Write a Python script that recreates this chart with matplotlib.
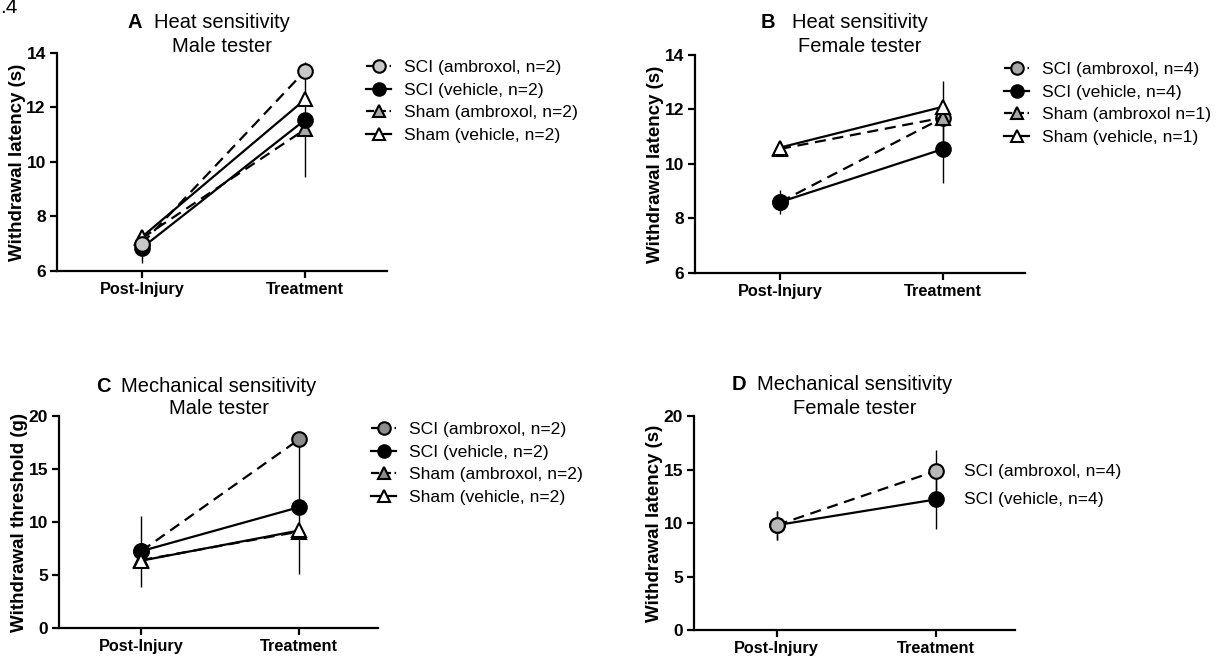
import matplotlib
matplotlib.use("Agg")
import matplotlib.pyplot as plt
from matplotlib.lines import Line2D

plt.rcParams['font.family'] = ['Liberation Sans', 'DejaVu Sans']

timepoints = ["Post-Injury", "Treatment"]

# panel A: heat, male tester
a_labels = ["SCI (ambroxol, n=2)", "SCI (vehicle, n=2)",
            "Sham (ambroxol, n=2)", "Sham (vehicle, n=2)"]
a_means = [[7.0, 13.35], [6.85, 11.55], [7.2, 11.2], [7.25, 12.3]]
a_errs = [[0.0, 0.0], [0.55, 2.1], [0.3, 0.0], [0.0, 0.0]]

# panel B: heat, female tester
b_labels = ["SCI (ambroxol, n=4)", "SCI (vehicle, n=4)",
            "Sham (ambroxol n=1)", "Sham (vehicle, n=1)"]
b_means = [[8.6, 11.7], [8.6, 10.55], [10.55, 11.7], [10.6, 12.1]]
b_errs = [[0.3, 1.35], [0.45, 1.25], [0.0, 0.0], [0.0, 0.0]]

# panel C: mechanical, male tester
c_labels = ["SCI (ambroxol, n=2)", "SCI (vehicle, n=2)",
            "Sham (ambroxol, n=2)", "Sham (vehicle, n=2)"]
c_means = [[7.25, 17.8], [7.25, 11.4], [6.4, 9.1], [6.35, 9.2]]
c_errs = [[0.0, 0.0], [3.35, 6.3], [0.0, 0.0], [0.0, 0.0]]

# panel D: mechanical, female tester
d_labels = ["SCI (ambroxol, n=4)", "SCI (vehicle, n=4)"]
d_means = [[9.8, 14.85], [9.8, 12.2]]
d_errs = [[1.35, 2.0], [1.35, 2.8]]

markers = ["o", "o", "^", "^"]
styles = ["--", "-", "--", "-"]

W, H = 1220, 657


def style_axis(ax, ylim, yticks, ylabel):
    ax.set_xlim(-0.52, 1.5)
    ax.set_ylim(*ylim)
    ax.set_yticks(yticks)
    ax.set_xticks([0, 1])
    ax.set_xticklabels(timepoints, fontsize=11.7, fontweight="bold")
    for t in ax.get_yticklabels():
        t.set_fontweight("bold")
        t.set_fontsize(12.5)
    ax.set_ylabel(ylabel, fontsize=13.5, fontweight="bold", labelpad=0)
    for s in ["top", "right"]:
        ax.spines[s].set_visible(False)
    for s in ["left", "bottom"]:
        ax.spines[s].set_linewidth(1.6)
        ax.spines[s].set_clip_on(False)
    ax.tick_params(width=1.6, length=5, direction="out", pad=3)


def draw(ax, means, errs, fills, order):
    x = [0, 1]
    for i in order:
        ax.errorbar(x, means[i], yerr=errs[i], fmt="none", ecolor="black",
                    elinewidth=1.0, capsize=0, zorder=2)
        ax.plot(x, means[i], linestyle=styles[i], color="black", lw=1.6,
                marker=markers[i], markersize=10.5 if markers[i] == "o" else 10,
                markerfacecolor=fills[i], markeredgecolor="black",
                markeredgewidth=1.5, dashes=(5, 3) if styles[i] == "--" else (None, None),
                zorder=3, clip_on=False)


def add_legend(ax, labels, fills, x_px, y_px):
    handles = []
    for i in range(len(labels)):
        handles.append(Line2D([], [], linestyle=styles[i], color="black", lw=1.6,
                              marker=markers[i], markersize=9 if markers[i] == "o" else 8,
                              markerfacecolor=fills[i], markeredgecolor="black",
                              markeredgewidth=1.5))
    ax.legend(handles, labels, loc="upper left",
              bbox_to_anchor=(x_px / W, 1 - y_px / H),
              bbox_transform=fig.transFigure, frameon=False, fontsize=12.6,
              handlelength=1.45, handletextpad=0.7, labelspacing=0.42,
              borderpad=0, borderaxespad=0)


def add_title(ax, letter, line1, line2, letter_px, y1_px, y2_px):
    pos = ax.get_position()
    cx = (pos.x0 + pos.x1) / 2
    fig.text(cx, 1 - y1_px / H, line1, fontsize=14.5, ha="center", va="center")
    fig.text(cx, 1 - y2_px / H, line2, fontsize=14.5, ha="center", va="center")
    fig.text(letter_px / W, 1 - y1_px / H, letter, fontsize=14.5,
             fontweight="bold", ha="left", va="center")


fig = plt.figure(figsize=(12.2, 6.57), dpi=100)

axA = fig.add_axes([0.0467, 0.5875, 0.2705, 0.332])
axB = fig.add_axes([0.5697, 0.5845, 0.2705, 0.332])
axC = fig.add_axes([0.0484, 0.0441, 0.2615, 0.3227])
axD = fig.add_axes([0.5689, 0.0411, 0.2631, 0.3257])

fillsA = ["#c8c8c8", "black", "#a8a8a8", "white"]
draw(axA, a_means, a_errs, fillsA, [2, 3, 1, 0])
style_axis(axA, (6, 14), [6, 8, 10, 12, 14], "Withdrawal latency (s)")
add_legend(axA, a_labels, fillsA, 366, 60)

fillsB = ["#a8a8a8", "black", "#a8a8a8", "white"]
draw(axB, b_means, b_errs, fillsB, [0, 1, 2, 3])
style_axis(axB, (6, 14), [6, 8, 10, 12, 14], "Withdrawal latency (s)")
add_legend(axB, b_labels, fillsB, 1004, 62)

fillsC = ["#8c8c8c", "black", "#8c8c8c", "white"]
draw(axC, c_means, c_errs, fillsC, [0, 1, 2, 3])
style_axis(axC, (0, 20), [0, 5, 10, 15, 20], "Withdrawal threshold (g)")
add_legend(axC, c_labels, fillsC, 371, 422)

fillsD = ["#b8b8b8", "black"]
draw(axD, d_means, d_errs, fillsD, [1, 0])
style_axis(axD, (0, 20), [0, 5, 10, 15, 20], "Withdrawal latency (s)")
for i in range(len(d_labels)):
    axD.text(1.18, d_means[i][1], d_labels[i], fontsize=12.6, ha="left", va="center")

add_title(axA, "A", "Heat sensitivity", "Male tester", 127, 23, 47)
add_title(axB, "B", "Heat sensitivity", "Female tester", 761, 23, 47)
add_title(axC, "C", "Mechanical sensitivity", "Male tester", 96, 386, 408)
add_title(axD, "D", "Mechanical sensitivity", "Female tester", 732, 385, 408)

fig.text(0.0, 1 - 13 / H, ".4", fontsize=15, ha="left", va="baseline")

fig.savefig("out.png", dpi=100)
